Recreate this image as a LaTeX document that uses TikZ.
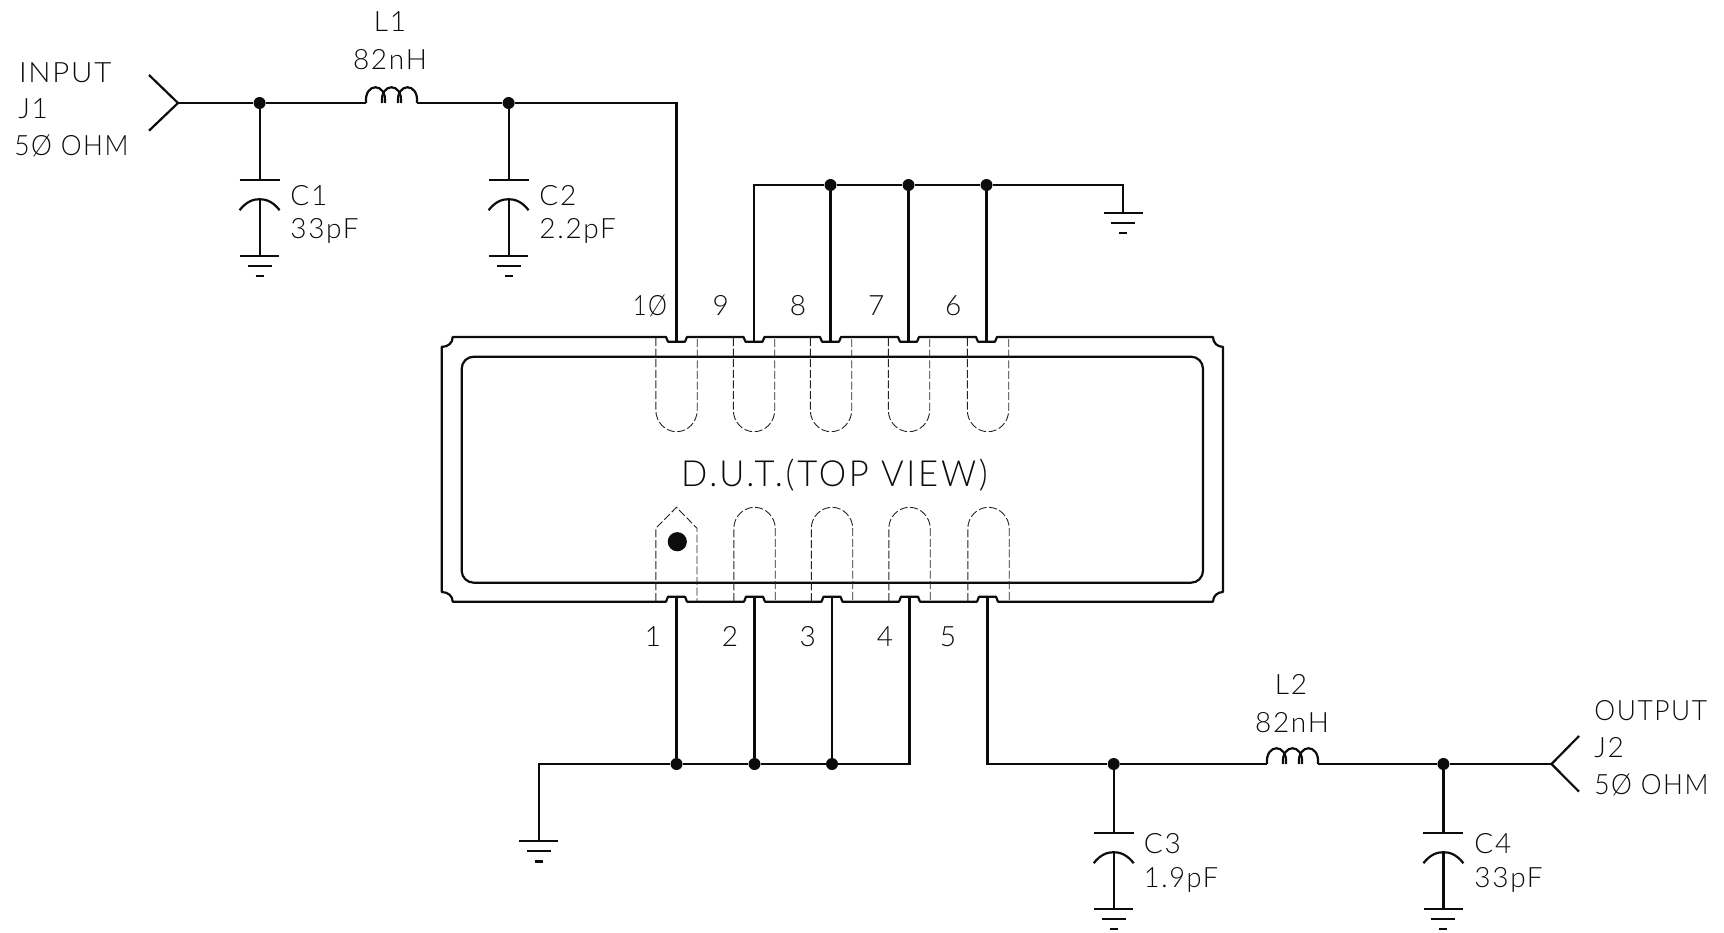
\documentclass[tikz,border=0pt]{standalone}
\usepackage{graphicx}
\usepackage{fontspec}
\setmainfont{Lato}[UprightFont={* Light},LetterSpace=6]
\newfontfamily\bigf{Lato}[UprightFont={* Light},LetterSpace=8]
\definecolor{ink}{HTML}{0C0C0C}
\tikzset{
  wire/.style={line width=1.1pt,draw=ink,line join=miter},
  body/.style={line width=1.1pt,draw=ink,line join=round},
  hid/.style={line width=0.45pt,draw=ink!90,dash pattern=on 4pt off 1.3pt},
  dotn/.style={circle,fill=ink,draw=none,minimum size=6pt,inner sep=0pt},
  lab/.style={inner sep=0pt,anchor=base west,font=\fontsize{14}{14}\selectfont,text=ink},
  labc/.style={inner sep=0pt,anchor=base,font=\fontsize{14}{14}\selectfont,text=ink}
}
% ground symbol whose top bar is centred on the named coordinate
\newcommand\gndsym[3]{%
  \coordinate (#1) at (#2,#3);
  \draw[wire] ($(#1)+(-19.5,0)$) -- ($(#1)+(19.5,0)$);
  \draw[wire] ($(#1)+(-12,10)$) -- ($(#1)+(12,10)$);
  \draw[wire] ($(#1)+(-4,20.5)$) -- ($(#1)+(4,20.5)$);
}
% capacitor to ground
\newcommand\capgnd[3]{%
  \coordinate (#1-t) at (#2,#3);
  \coordinate (#1-m) at (#2,#3+19.5);
  \gndsym{#1-g}{#2}{#3+76}
  \draw[wire] ($(#1-t)+(-20,0)$) -- ($(#1-t)+(20,0)$);
  \draw[wire] ($(#1-m)+(-20,11)$) .. controls ($(#1-m)+(-13,2)$) and ($(#1-m)+(-6,0)$) .. (#1-m)
     .. controls ($(#1-m)+(6,0)$) and ($(#1-m)+(13,2)$) .. ($(#1-m)+(20,11)$);
  \draw[wire] (#1-m) -- (#1-g);
}
% inductor between two named coordinates
\newcommand\coil[4]{%
  \coordinate (#1-a) at (#2,#4);
  \coordinate (#1-b) at (#3,#4);
  \draw[wire] (#2,#4) .. controls (#2-2,#4-21) and (#2+21,#4-21) .. (#2+19,#4);
  \draw[wire] (#2+16,#4) .. controls (#2+14,#4-21) and (#2+37,#4-21) .. (#2+35,#4);
  \draw[wire] (#2+32,#4) .. controls (#2+30,#4-21) and (#3+2,#4-21) .. (#3,#4);
}
\newcommand\tn[1]{-- (#1-10.5,337) -- (#1-8.5,341.7) -- (#1+8.5,341.7) -- (#1+10.5,337)}
\newcommand\bn[1]{-- (#1+10.5,601.7) -- (#1+8.5,596.7) -- (#1-8.5,596.7) -- (#1-10.5,601.7)}
\newcommand\tslot[1]{\draw[hid] (#1-20.7,338) -- (#1-20.7,410) .. controls (#1-20.7,422) and (#1-11.4,431.7) .. (#1,431.7) .. controls (#1+11.4,431.7) and (#1+20.7,422) .. (#1+20.7,410) -- (#1+20.7,338);}
\newcommand\bslot[1]{\draw[hid] (#1-20.7,601) -- (#1-20.7,528.5) .. controls (#1-20.7,517) and (#1-11.4,507.3) .. (#1,507.3) .. controls (#1+11.4,507.3) and (#1+20.7,517) .. (#1+20.7,528.5) -- (#1+20.7,601);}
\newcommand\nar[2]{\scalebox{#1}[1]{#2}}
\usetikzlibrary{calc}
\begin{document}
\begin{tikzpicture}[x=0.5pt,y=-0.5pt]
\useasboundingbox (0,0) rectangle (1724,932);

% package outline
\draw[body] (452.7,337) \tn{676.5} \tn{754} \tn{830.5} \tn{908.5} \tn{986.5} -- (1213,337)
  .. controls (1213,343) and (1217.5,346.9) .. (1223,346.9)
  -- (1223,592)
  .. controls (1217.5,592) and (1213,596) .. (1213,601.7)
  \bn{987.5} \bn{909.5} \bn{832} \bn{754.5} \bn{676.5} -- (452.7,601.7)
  .. controls (452.7,596) and (448,592) .. (441.7,592)
  -- (441.7,346.9)
  .. controls (448,346.9) and (452.7,343) .. (452.7,337) -- cycle;
\draw[body,rounded corners=6pt] (461.7,356.7) rectangle (1203,582.7);

% hidden lead outlines
\foreach \p in {676.5,754,831,909,988} {\tslot{\p}}
\foreach \p in {754.5,832,909.5,988.5} {\bslot{\p}}
\draw[hid] (655.8,601) -- (655.8,528.3) -- (676.5,507.3) -- (697,528.3) -- (697,601);
\node[circle,fill=ink,draw=none,minimum size=9.6pt,inner sep=0pt] (pinone) at (677.3,541.7) {};

% pin ends on package
\coordinate (p10) at (676.5,341.7);
\coordinate (p9) at (754,341.7);
\coordinate (p8) at (830.5,341.7);
\coordinate (p7) at (908.5,341.7);
\coordinate (p6) at (986.5,341.7);
\coordinate (p1) at (676.5,596.7);
\coordinate (p2) at (754.5,596.7);
\coordinate (p3) at (832,596.7);
\coordinate (p4) at (909.5,596.7);
\coordinate (p5) at (987.5,596.7);

% input side
\coordinate (j1) at (178,103);
\coordinate (j1u) at (149,75);
\coordinate (j1d) at (149,130.7);
\node[dotn] (d1) at (259.6,103) {};
\node[dotn] (d2) at (508.6,103) {};
\coil{l1}{366}{417}{103}
\capgnd{c1}{259.6}{179.7}
\capgnd{c2}{508.6}{179.7}
\draw[wire] (j1u) -- (j1) -- (j1d);
\draw[wire] (j1) -- (d1) -- (l1-a);
\draw[wire] (l1-b) -- (d2);
\draw[wire] (d2) -| (p10);
\draw[wire] (d1) -- (c1-t);
\draw[wire] (d2) -- (c2-t);

% top ground bus
\coordinate (t9) at (754,185);
\node[dotn] (t8) at (830.5,185) {};
\node[dotn] (t7) at (908.5,185) {};
\node[dotn] (t6) at (986.5,185) {};
\gndsym{gt}{1123.3}{212.7}
\draw[wire] (p9) -- (t9) -- (t8) -- (t7) -- (t6);
\draw[wire] (t6) -| (gt);
\draw[wire] (p8) -- (t8);
\draw[wire] (p7) -- (t7);
\draw[wire] (p6) -- (t6);

% bottom ground bus
\node[dotn] (b1) at (676.5,764) {};
\node[dotn] (b2) at (754.5,764) {};
\node[dotn] (b3) at (832,764) {};
\coordinate (b4) at (909.5,764);
\gndsym{gb}{538.8}{841}
\draw[wire] (gb) |- (b1);
\draw[wire] (b1) -- (b2) -- (b3) -- (b4) -- (p4);
\draw[wire] (p1) -- (b1);
\draw[wire] (p2) -- (b2);
\draw[wire] (p3) -- (b3);

% output side
\node[dotn] (d3) at (1113.7,764) {};
\node[dotn] (d4) at (1443.4,764) {};
\coil{l2}{1267}{1318}{764}
\coordinate (j2) at (1551.5,764);
\coordinate (j2u) at (1579,736);
\coordinate (j2d) at (1579,791.7);
\capgnd{c3}{1113.7}{832.7}
\capgnd{c4}{1443.4}{832.7}
\draw[wire] (p5) |- (d3);
\draw[wire] (d3) -- (l2-a);
\draw[wire] (l2-b) -- (d4);
\draw[wire] (d4) -- (j2);
\draw[wire] (j2u) -- (j2) -- (j2d);
\draw[wire] (d3) -- (c3-t);
\draw[wire] (d4) -- (c4-t);

% labels
\node[lab] (tinput) at (18.6,82.7) {\nar{1.05}{INPUT}};
\node[lab] (tj1) at (18,118) {J1};
\node[lab] (tz1) at (14,155) {\nar{0.94}{5Ø OHM}};
\node[labc] (tl1) at (390,31) {L1};
\node[labc] (tl1v) at (390,69.3) {82nH};
\node[lab] (tc1) at (290,205) {C1};
\node[lab] (tc1v) at (290,238.7) {33pF};
\node[lab] (tc2) at (539,205) {C2};
\node[lab] (tc2v) at (539,238.7) {2.2pF};
\node[labc] (n10) at (650,315) {\nar{0.85}{1Ø}};
\node[labc] (n9) at (720.7,315) {9};
\node[labc] (n8) at (798,315) {8};
\node[labc] (n7) at (876.3,315) {7};
\node[labc] (n6) at (953.3,315) {6};
\node[labc] (n1) at (653,646) {1};
\node[labc] (n2) at (730,646) {2};
\node[labc] (n3) at (807.7,646) {3};
\node[labc] (n4) at (885,646) {4};
\node[labc] (n5) at (948,646) {5};
\node[inner sep=0pt,anchor=base,text=ink] (dut) at (834.5,486) {\bigf\fontsize{18}{18}\selectfont\nar{0.96}{D.U.T.(TOP VIEW)}};
\node[labc] (tl2) at (1291,694) {L2};
\node[labc] (tl2v) at (1292,732.7) {82nH};
\node[lab] (toutput) at (1594,720) {\nar{0.94}{OUTPUT}};
\node[lab] (tj2) at (1594,757.3) {J2};
\node[lab] (tz2) at (1594,794) {\nar{0.94}{5Ø OHM}};
\node[lab] (tc3) at (1143.5,853.3) {C3};
\node[lab] (tc3v) at (1143.5,887.3) {\nar{0.97}{1.9pF}};
\node[lab] (tc4) at (1474,853.3) {C4};
\node[lab] (tc4v) at (1474,887.3) {33pF};
\end{tikzpicture}
\end{document}
